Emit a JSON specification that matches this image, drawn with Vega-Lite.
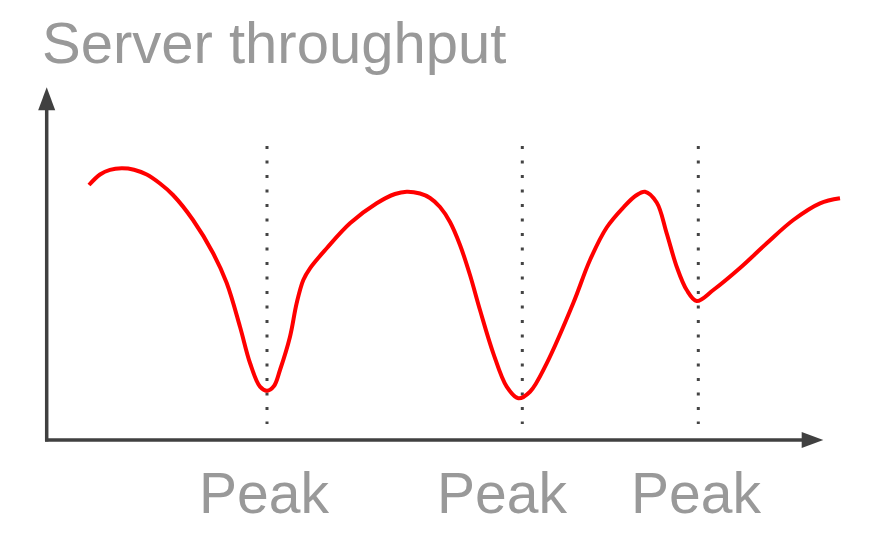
{
  "$schema": "https://vega.github.io/schema/vega-lite/v6.json",
  "width": 880,
  "height": 544,
  "padding": 0,
  "autosize": {"type": "fit", "contains": "padding"},
  "background": "white",
  "config": {"view": {"stroke": null}},
  "datasets": {
    "curve": [
      {"t": 89, "v": 359}, {"t": 100, "v": 369.5}, {"t": 110, "v": 374.2}, {"t": 121.7, "v": 375.7},
      {"t": 134, "v": 374.3}, {"t": 146.7, "v": 369.5}, {"t": 160, "v": 360.5}, {"t": 173, "v": 349},
      {"t": 193, "v": 324}, {"t": 213, "v": 291}, {"t": 226.7, "v": 261}, {"t": 240, "v": 217.3},
      {"t": 250, "v": 181}, {"t": 260, "v": 157.3}, {"t": 267, "v": 153.3}, {"t": 274, "v": 158},
      {"t": 280, "v": 174}, {"t": 290, "v": 207.3}, {"t": 296.7, "v": 241}, {"t": 303.3, "v": 264},
      {"t": 310, "v": 275.7}, {"t": 326.7, "v": 295.7}, {"t": 350, "v": 320.7}, {"t": 376.7, "v": 340.7},
      {"t": 395, "v": 350}, {"t": 406.7, "v": 352.3}, {"t": 420, "v": 350.5}, {"t": 430, "v": 346},
      {"t": 440, "v": 337}, {"t": 450, "v": 322}, {"t": 460, "v": 299}, {"t": 470, "v": 269},
      {"t": 480, "v": 234},
      {"t": 493.3, "v": 190.7}, {"t": 506.7, "v": 157.3}, {"t": 518.3, "v": 145.7}, {"t": 530, "v": 152.3},
      {"t": 546.7, "v": 180.7}, {"t": 573.3, "v": 241}, {"t": 590, "v": 284}, {"t": 606.7, "v": 316.5},
      {"t": 623.3, "v": 336.5}, {"t": 636, "v": 348.5}, {"t": 645, "v": 352.3}, {"t": 656.7, "v": 341.5},
      {"t": 666.7, "v": 310.7}, {"t": 676.7, "v": 277.3}, {"t": 686.7, "v": 254}, {"t": 696.7, "v": 243},
      {"t": 713.3, "v": 254}, {"t": 740, "v": 276}, {"t": 766.7, "v": 300.7}, {"t": 793.3, "v": 324},
      {"t": 820, "v": 340.7}, {"t": 840, "v": 345.7}
    ],
    "peaks": [
      {"t": 267, "top": 398, "bottom": 120, "labelT": 264, "label": "Peak"},
      {"t": 522.3, "top": 398, "bottom": 120, "labelT": 502, "label": "Peak"},
      {"t": 698.3, "top": 398, "bottom": 120, "labelT": 696, "label": "Peak"}
    ],
    "yaxis": [{"t": 46.7, "v1": 102.5, "v2": 436}],
    "xaxis": [{"t1": 45, "t2": 804, "v": 104}],
    "yarrow": [{"t": 46.7, "v": 445.3}],
    "xarrow": [{"t": 812.5, "v": 104}],
    "title": [{"t": 42, "v": 481, "text": "Server throughput"}]
  },
  "layer": [
    {
      "data": {"name": "peaks"},
      "mark": {"type": "rule", "color": "#444444", "strokeWidth": 3, "strokeDash": [3, 11.5], "strokeCap": "butt"},
      "encoding": {
        "x": {"field": "t", "type": "quantitative", "scale": {"domain": [0, 880], "nice": false, "zero": false}, "axis": null},
        "y": {"field": "top", "type": "quantitative", "scale": {"domain": [0, 544], "nice": false, "zero": false}, "axis": null},
        "y2": {"field": "bottom"}
      }
    },
    {
      "data": {"name": "yaxis"},
      "mark": {"type": "rule", "color": "#404040", "strokeWidth": 3.5},
      "encoding": {
        "x": {"field": "t", "type": "quantitative"},
        "y": {"field": "v1", "type": "quantitative"},
        "y2": {"field": "v2"}
      }
    },
    {
      "data": {"name": "xaxis"},
      "mark": {"type": "rule", "color": "#404040", "strokeWidth": 3.5},
      "encoding": {
        "x": {"field": "t1", "type": "quantitative"},
        "x2": {"field": "t2"},
        "y": {"field": "v", "type": "quantitative"}
      }
    },
    {
      "data": {"name": "yarrow"},
      "mark": {"type": "point", "shape": "M-0.74,1L0,-1L0.74,1Z", "filled": true, "color": "#404040", "opacity": 1, "size": 529},
      "encoding": {
        "x": {"field": "t", "type": "quantitative"},
        "y": {"field": "v", "type": "quantitative"}
      }
    },
    {
      "data": {"name": "xarrow"},
      "mark": {"type": "point", "shape": "M-1,-0.74L1,0L-1,0.74Z", "filled": true, "color": "#404040", "opacity": 1, "size": 467},
      "encoding": {
        "x": {"field": "t", "type": "quantitative"},
        "y": {"field": "v", "type": "quantitative"}
      }
    },
    {
      "data": {"name": "curve"},
      "mark": {"type": "line", "color": "#ff0000", "strokeWidth": 4, "interpolate": "catmull-rom"},
      "encoding": {
        "x": {"field": "t", "type": "quantitative"},
        "y": {"field": "v", "type": "quantitative"}
      }
    },
    {
      "data": {"name": "peaks"},
      "mark": {"type": "text", "font": "Liberation Sans", "fontSize": 57, "color": "#999999", "align": "center", "baseline": "alphabetic"},
      "encoding": {
        "x": {"field": "labelT", "type": "quantitative"},
        "y": {"datum": 31},
        "text": {"field": "label"}
      }
    },
    {
      "data": {"name": "title"},
      "mark": {"type": "text", "font": "Liberation Sans", "fontSize": 58, "color": "#999999", "align": "left", "baseline": "alphabetic"},
      "encoding": {
        "x": {"field": "t", "type": "quantitative"},
        "y": {"field": "v", "type": "quantitative"},
        "text": {"field": "text"}
      }
    }
  ]
}
